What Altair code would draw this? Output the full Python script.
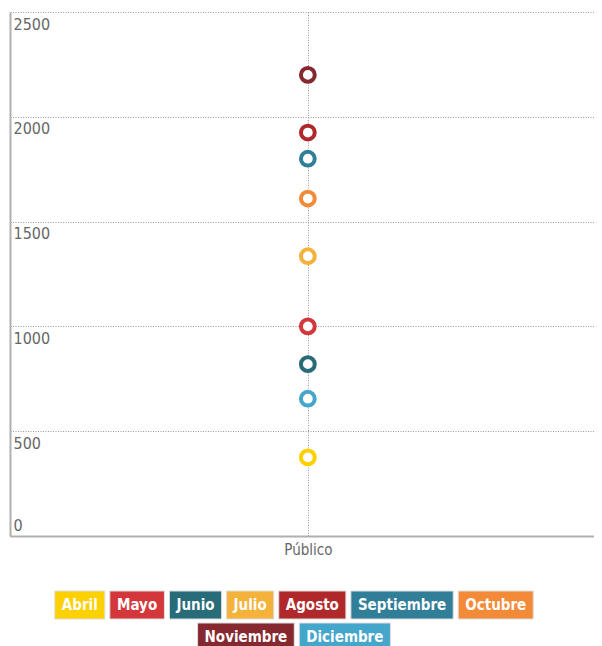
import altair as alt
import pandas as pd

# ---- data ----
MONTHS = ["Abril", "Mayo", "Junio", "Julio", "Agosto", "Septiembre",
          "Octubre", "Noviembre", "Diciembre"]
VALUES = [375, 1000, 820, 1335, 1925, 1800, 1610, 2200, 655]
CATEGORY = "Público"
COLORS = ["#FDD000", "#D4373B", "#276C78", "#F5B23A", "#B0282A",
          "#317E99", "#F38A37", "#86282F", "#44A6CB"]
Y_TICKS = [0, 500, 1000, 1500, 2000, 2500]

FONT = "DejaVu Sans Condensed"
PLOT_W, PLOT_H = 584, 524

df = pd.DataFrame({"mes": MONTHS, "valor": VALUES, "cat": [CATEGORY] * len(MONTHS)})

color_scale = alt.Scale(domain=MONTHS, range=COLORS)

points = alt.Chart(df).mark_point(
    shape="circle", filled=False, fill="white", fillOpacity=1,
    strokeWidth=4, size=190, opacity=1
).encode(
    x=alt.X("cat:N", title=None, scale=alt.Scale(align=0.51),
            axis=alt.Axis(grid=True, gridDash=[1, 1.5], gridColor="#999999",
                          gridWidth=1, ticks=False, domainColor="#b0b0b0",
                          domainWidth=2, labelFont=FONT, labelFontSize=15,
                          labelColor="#666666", labelPadding=6, labelAngle=0)),
    y=alt.Y("valor:Q", title=None,
            scale=alt.Scale(domain=[0, 2500], nice=False),
            axis=alt.Axis(values=Y_TICKS, format="d", grid=True, gridDash=[1, 1.5],
                          gridColor="#999999", gridWidth=1, ticks=False,
                          tickSize=0, domainColor="#b0b0b0", domainWidth=2,
                          labelFont=FONT, labelFontSize=16, labelColor="#666666",
                          labelAlign="left",
                          labelBaseline={"condition": {"test": "datum.value == 0", "value": "bottom"}, "value": "top"},
                          labelOffset={"condition": {"test": "datum.value == 0", "value": -3}, "value": 4},
                          labelPadding=-3)),
    color=alt.Color("mes:N", scale=color_scale, legend=None),
).properties(width=PLOT_W, height=PLOT_H)

# ---- custom legend: coloured boxes with white text ----
# approximate bold glyph advance widths (em) used to size the boxes
CHAR_EM = {"A": .774, "b": .716, "r": .493, "i": .343, "l": .343, "M": .995,
           "a": .675, "y": .652, "o": .687, "J": .372, "u": .712, "n": .712,
           "g": .716, "s": .595, "t": .478, "S": .720, "p": .716, "e": .678,
           "m": 1.042, "O": .850, "c": .593, "N": .837, "v": .652, "D": .830}
LEG_FS = 15
PAD = 7
GAP = 5
ROW_H = 28
ROW_GAP = 4
MAX_ROW = 540
CENTER = 284


def text_w(s):
    return sum(CHAR_EM.get(ch, .7) for ch in s) * 0.9 * LEG_FS


rows, cur, cur_w = [], [], 0
for m, c in zip(MONTHS, COLORS):
    w = text_w(m) + 2 * PAD
    add = w if not cur else w + GAP
    if cur and cur_w + add > MAX_ROW:
        rows.append((cur, cur_w))
        cur, cur_w = [], 0
        add = w
    cur.append((m, c, w))
    cur_w += add
rows.append((cur, cur_w))

recs = []
for ri, (items, tot) in enumerate(rows):
    x = CENTER - tot / 2
    y0 = ri * (ROW_H + ROW_GAP)
    for m, c, w in items:
        recs.append({"mes": m, "x0": x, "x1": x + w, "xc": x + w / 2,
                     "y0": y0, "y1": y0 + ROW_H, "yc": y0 + ROW_H / 2})
        x += w + GAP
leg_df = pd.DataFrame(recs)

leg_base = alt.Chart(leg_df)
boxes = leg_base.mark_rect(stroke="#dddddd", strokeWidth=1).encode(
    x=alt.X("x0:Q", scale=None, axis=None),
    x2="x1:Q",
    y=alt.Y("y0:Q", scale=None, axis=None),
    y2="y1:Q",
    color=alt.Color("mes:N", scale=color_scale, legend=None),
)
labels = leg_base.mark_text(font=FONT, fontSize=LEG_FS, fontWeight="bold",
                            color="white", baseline="middle", align="center").encode(
    x=alt.X("xc:Q", scale=None, axis=None),
    y=alt.Y("yc:Q", scale=None, axis=None),
    text="mes:N",
)
legend = alt.layer(boxes, labels).properties(width=PLOT_W, height=2 * ROW_H + ROW_GAP)

chart = alt.vconcat(points, legend, spacing=33).properties(
    padding={"left": 2, "top": 4, "right": 0, "bottom": 0}
).configure_view(strokeOpacity=0)

chart.save("out.html", embed_options={"renderer": "svg", "actions": False})
